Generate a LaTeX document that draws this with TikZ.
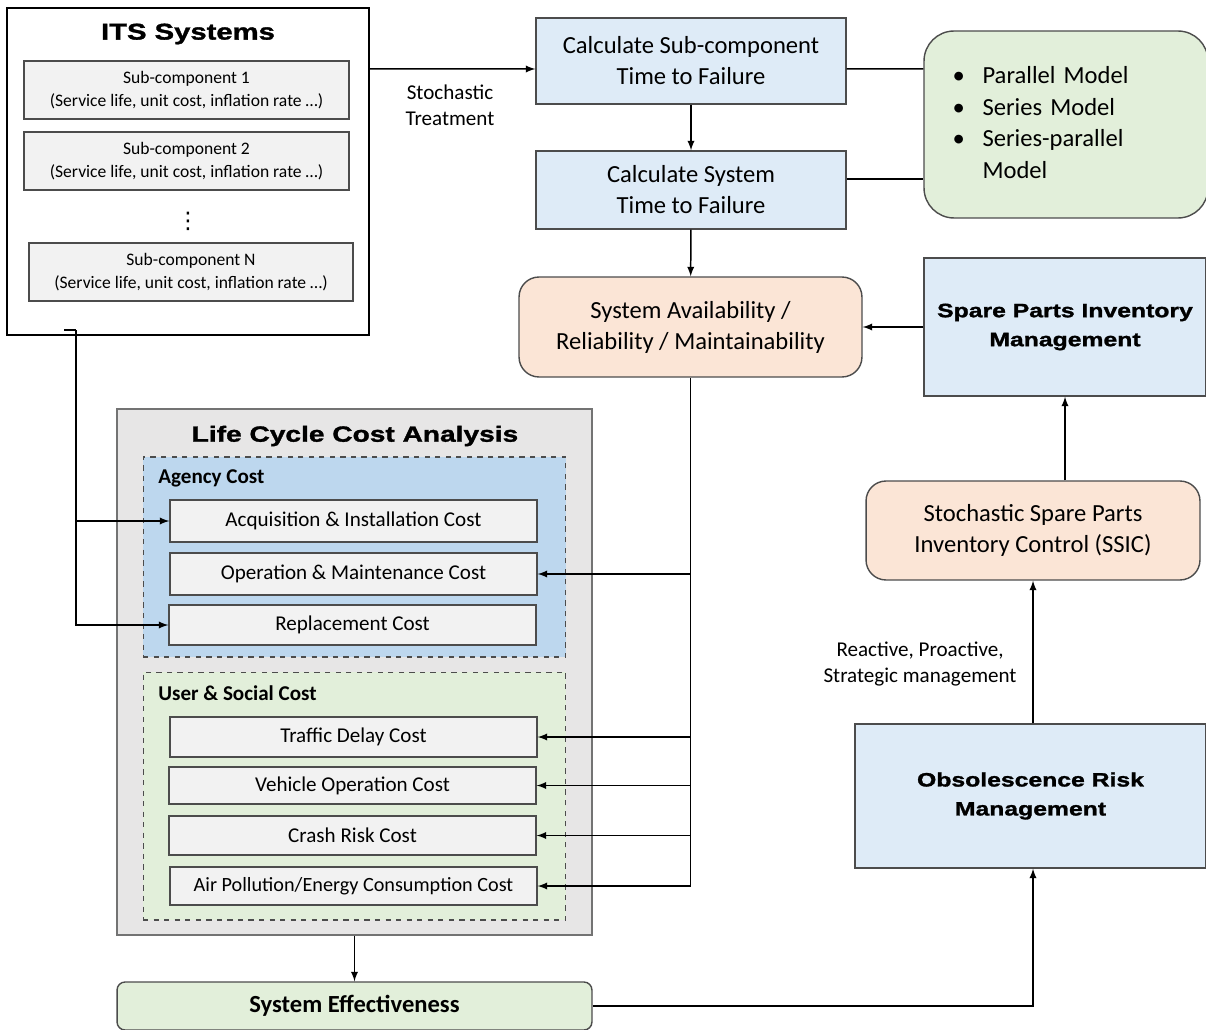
\documentclass[tikz,border=0pt]{standalone}
\usepackage{fontspec}
\setmainfont{Carlito}
\newfontfamily\headfont[FakeStretch=1.28, FakeBold=1.5]{Liberation Sans}
\newfontfamily\symfont{DejaVu Sans}
\usepackage{tikz}
\usetikzlibrary{arrows}
\definecolor{calcblue}{HTML}{DEEBF7}
\definecolor{agencyblue}{HTML}{BDD7EE}
\definecolor{modelgreen}{HTML}{E2EFDA}
\definecolor{peach}{HTML}{FBE5D6}
\definecolor{lccagray}{HTML}{E7E6E6}
\definecolor{costgray}{HTML}{F2F2F2}
\tikzstyle{arrow} = [->,>=latex, line width=0.85pt]
\tikzstyle{line} = [line width=0.85pt]
\tikzstyle{itsbox} = [draw=black, line width=0.8pt, fill=white, minimum width=7.24cm, minimum height=6.54cm]
\tikzstyle{subbox} = [draw=black!70, line width=0.8pt, fill=costgray, minimum width=6.5cm, minimum height=1.16cm, align=center, inner sep=0pt, font=\fontsize{10}{13}\selectfont]
\tikzstyle{calcbox} = [draw=black!70, line width=0.8pt, fill=calcblue, minimum width=6.2cm, align=center, inner sep=0pt, font=\fontsize{14}{17.6}\selectfont]
\tikzstyle{roundbox} = [calcbox, rounded corners=0.4cm, fill=peach]
\tikzstyle{headbox} = [draw=black!70, line width=0.8pt, fill=calcblue, align=center, inner sep=0pt, font=\headfont\bfseries\fontsize{11}{16.5}\selectfont]
\tikzstyle{costbox} = [draw=black!70, line width=0.8pt, fill=costgray, minimum width=7.34cm, inner sep=0pt, font=\fontsize{12}{14}\selectfont]
\tikzstyle{groupbox} = [draw=black!70, dashed, line width=0.6pt, minimum width=8.46cm]
\tikzstyle{grouplabel} = [anchor=west, inner sep=0pt, font=\bfseries\fontsize{12}{14}\selectfont]
\tikzstyle{note} = [align=center, font=\fontsize{12}{14.7}\selectfont]

\begin{document}
\begin{tikzpicture}[x=0.02cm, y=-0.02cm]
\useasboundingbox (0,0) rectangle (1206,1030);

% ITS systems
\node[itsbox] (its) at (188,171.5) {};
\node[font=\headfont\bfseries\fontsize{13}{16}\selectfont] (itstitle) at (188,34) {ITS Systems};
\node[subbox] (sub1) at (186.5,90) {Sub-component 1\\(Service life, unit cost, inflation rate …)};
\node[subbox] (sub2) at (186.5,161) {Sub-component 2\\(Service life, unit cost, inflation rate …)};
\node[font=\symfont\fontsize{13}{15}\selectfont] (dots) at (188,221) {⋮};
\node[subbox, minimum width=6.48cm] (subN) at (191,272) {Sub-component N\\(Service life, unit cost, inflation rate …)};

% time to failure
\node[calcbox, minimum height=1.72cm] (calc1) at (691,61) {Calculate Sub-component\\Time to Failure};
\node[calcbox, minimum height=1.56cm] (calc2) at (691,190) {Calculate System\\Time to Failure};
\node[draw=black!70, line width=0.8pt, fill=modelgreen, rounded corners=0.6cm, minimum width=5.68cm, minimum height=3.74cm,
  text width=4.54cm, inner xsep=0.57cm, align=left, font=\fontsize{14}{18}\selectfont] (models) at (1066,124.5)
  {\begin{tabular}{@{}p{0.6cm}@{}l@{}}\textbullet & Parallel Model\\ \textbullet & Series Model\\ \textbullet & Series-parallel\\ & Model\end{tabular}};
\node[roundbox, minimum width=6.86cm, minimum height=2cm] (avail) at (690.5,327) {System Availability /\\Reliability / Maintainability};

% spare parts / obsolescence
\node[headbox, minimum width=5.64cm, minimum height=2.76cm] (spare) at (1065,327) {Spare Parts Inventory\\Management};
\node[roundbox, minimum width=6.68cm, minimum height=1.98cm] (ssic) at (1033,530.5) {Stochastic Spare Parts\\Inventory Control (SSIC)};
\node[headbox, minimum width=7.02cm, minimum height=2.88cm] (obs) at (1030.5,796) {Obsolescence Risk\\Management};
\node[note] (rpslbl) at (920,664) {Reactive, Proactive,\\Strategic management};

% life cycle cost analysis
\node[draw=black!55, line width=1pt, fill=lccagray, minimum width=9.5cm, minimum height=10.52cm] (lcca) at (354.5,672) {};
\node[font=\headfont\bfseries\fontsize{12.5}{15}\selectfont] (lccatitle) at (355,436) {Life Cycle Cost Analysis};
\node[groupbox, fill=agencyblue, minimum height=4cm] (agency) at (354.5,557) {};
\node[grouplabel] (agencylbl) at (158,478) {Agency Cost};
\node[costbox, minimum height=0.84cm] (acq) at (353.5,521) {Acquisition \& Installation Cost};
\node[costbox, minimum height=0.84cm] (opm) at (353.5,574) {Operation \& Maintenance Cost};
\node[costbox, minimum height=0.8cm] (repl) at (352.5,625) {Replacement Cost};
\node[groupbox, fill=modelgreen, minimum height=4.96cm] (user) at (354.5,796) {};
\node[grouplabel] (userlbl) at (158,693) {User \& Social Cost};
\node[costbox, minimum height=0.8cm] (traffic) at (353.5,737) {Traffic Delay Cost};
\node[costbox, minimum height=0.74cm] (vehicle) at (352.5,785.5) {Vehicle Operation Cost};
\node[costbox, minimum height=0.78cm] (crash) at (352.5,835.5) {Crash Risk Cost};
\node[costbox, minimum height=0.76cm, font=\fontsize{11.5}{14}\selectfont] (air) at (353.5,886) {Air Pollution/Energy Consumption Cost};
\node[draw=black!70, line width=0.8pt, fill=modelgreen, rounded corners=0.16cm, minimum width=9.5cm, minimum height=0.96cm,
  font=\bfseries\fontsize{14}{16}\selectfont] (syseff) at (354.5,1006) {System Effectiveness};

% connectors
\draw[arrow] (its.east |- calc1.west) ++(0,8) coordinate (stoch) -- ([yshift=-0.16cm]calc1.west);
\node[note] (stochlbl) at (450,105) {Stochastic\\Treatment};
\draw[arrow] (calc1) -- (calc2);
\draw[line] ([yshift=-0.16cm]calc1.east) -- (models.west |- stoch);
\draw[line] ([yshift=0.22cm]calc2.east) -- ([yshift=0.22cm]calc2.east -| models.west);
\draw[arrow] (calc2) -- (avail);
\draw[arrow] (spare.west) -- (avail.east |- spare.west);
\draw[arrow] (spare.south |- ssic.north) -- (spare.south);
\draw[arrow] (ssic.south |- obs.north) -- (ssic.south);
\draw[arrow] (syseff.east) -| (ssic.south |- obs.south);
\draw[arrow] (lcca) -- (syseff);
\draw[line] (avail.south) -- (avail.south |- air.east);
\foreach \c in {opm, traffic, vehicle, crash, air}
  \draw[arrow] (avail.south |- \c.east) -- (\c.east);
\coordinate (itsout) at (64,330);
\coordinate (itsdrop) at (76,330);
\draw[line] (itsout) -- (itsdrop);
\draw[arrow] (itsdrop) |- (repl.west);
\draw[arrow] (itsdrop |- acq.west) -- (acq.west);
\end{tikzpicture}
\end{document}
